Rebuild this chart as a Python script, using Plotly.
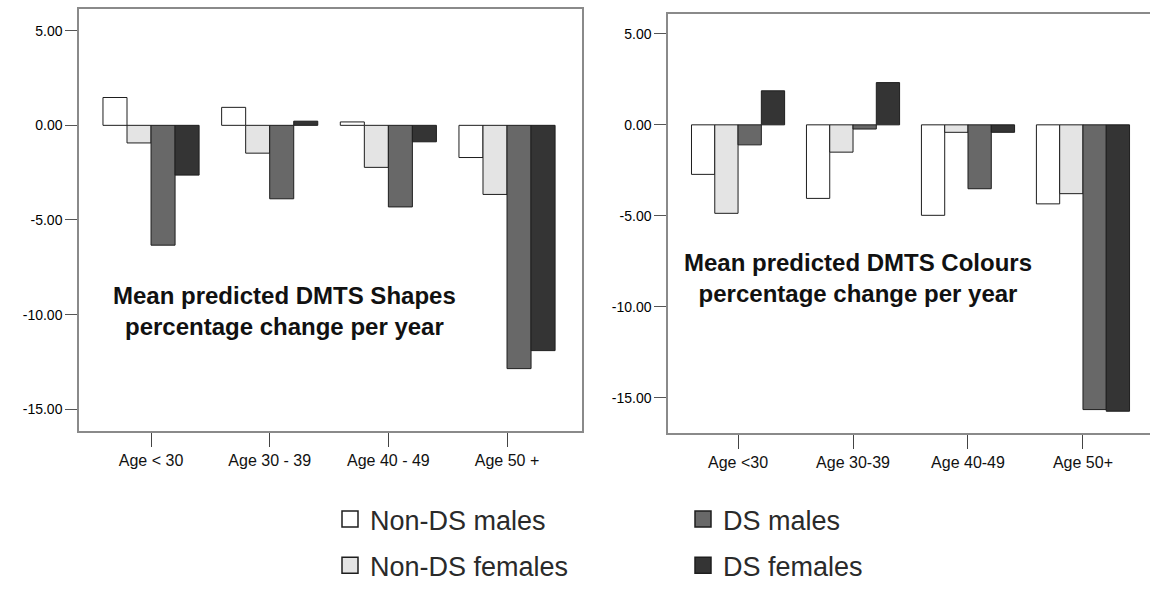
import plotly.graph_objects as go
from plotly.subplots import make_subplots

cats_shapes = ["Age < 30", "Age 30 - 39", "Age 40 - 49", "Age 50 +"]
cats_colours = ["Age <30", "Age 30-39", "Age 40-49", "Age 50+"]
series_names = ["Non-DS males", "Non-DS females", "DS males", "DS females"]

shapes_nonds_males = [1.47, 0.95, 0.18, -1.70]
shapes_nonds_females = [-0.93, -1.47, -2.22, -3.65]
shapes_ds_males = [-6.33, -3.88, -4.31, -12.85]
shapes_ds_females = [-2.63, 0.22, -0.87, -11.90]

colours_nonds_males = [-2.72, -4.04, -4.97, -4.34]
colours_nonds_females = [-4.86, -1.50, -0.41, -3.78]
colours_ds_males = [-1.10, -0.23, -3.51, -15.64]
colours_ds_females = [1.87, 2.32, -0.41, -15.73]

y_ticks = [5, 0, -5, -10, -15]
y_ticktext = ["5.00", "0.00", "-5.00", "-10.00", "-15.00"]

fills = ["#ffffff", "#e4e4e4", "#686868", "#343434"]
outline = "#1e1e1e"

shapes_data = [shapes_nonds_males, shapes_nonds_females, shapes_ds_males, shapes_ds_females]
colours_data = [colours_nonds_males, colours_nonds_females, colours_ds_males, colours_ds_females]

fig = make_subplots(rows=1, cols=2)

for i, name in enumerate(series_names):
    fig.add_trace(go.Bar(x=cats_shapes, y=shapes_data[i], name=name,
                         marker=dict(color=fills[i], line=dict(color=outline, width=1)),
                         showlegend=False), row=1, col=1)
for i, name in enumerate(series_names):
    fig.add_trace(go.Bar(x=cats_colours, y=colours_data[i], name=name,
                         marker=dict(color=fills[i], line=dict(color=outline, width=1)),
                         showlegend=False), row=1, col=2)

# legend entries
legend_ids = ["legend", "legend", "legend2", "legend2"]
for i, name in enumerate(series_names):
    fig.add_trace(go.Scatter(x=[None], y=[None], mode="markers", name=name,
                             marker=dict(symbol="square", size=20, color=fills[i],
                                         line=dict(color=outline, width=1.5)),
                             legend=legend_ids[i], legendgroup=name, showlegend=True,
                             hoverinfo="skip"), row=1, col=1)

frame = "#8a8a8a"
FONT = "Liberation Sans, Arial, sans-serif"
ytickfont = dict(family=FONT, size=14, color="#000000")
xtickfont = dict(family=FONT, size=16, color="#111111")

common_x = dict(showline=True, mirror=True, linecolor=frame, linewidth=1.5, ticks="outside",
                ticklen=14, tickcolor="#444444", tickwidth=1.2, tickfont=xtickfont,
                showgrid=False, zeroline=False, fixedrange=True, automargin=False)
common_y = dict(showline=True, linecolor=frame, linewidth=1.5, ticks="outside",
                ticklen=12, tickcolor="#555555", tickwidth=1.2, tickvals=y_ticks,
                ticktext=y_ticktext, tickfont=ytickfont, showgrid=False, zeroline=False,
                fixedrange=True, automargin=False)

fig.update_layout(
    width=1150, height=590,
    margin=dict(l=0, r=0, t=0, b=0),
    paper_bgcolor="white", plot_bgcolor="white",
    barmode="group", bargap=0.19, bargroupgap=0.0,
    font=dict(family=FONT, color="#222222"),
    xaxis=dict(domain=[0.0687, 0.506], range=[-0.607, 3.631], **common_x),
    yaxis=dict(domain=[0.2593, 0.9847], range=[-16.15, 6.15], mirror=True, **common_y),
    xaxis2=dict(domain=[0.5809, 1.0], range=[-0.609, 3.583], **common_x),
    yaxis2=dict(domain=[0.2559, 0.9763], range=[-16.93, 6.10], mirror=False, **common_y),
    legend=dict(x=330/1150, y=1-502/590, xanchor="left", yanchor="top", orientation="v",
                bgcolor="rgba(0,0,0,0)", font=dict(size=27, color="#2a2a2a"),
                tracegroupgap=8, traceorder="grouped"),
    legend2=dict(x=683/1150, y=1-502/590, xanchor="left", yanchor="top", orientation="v",
                 bgcolor="rgba(0,0,0,0)", font=dict(size=27, color="#2a2a2a"),
                 tracegroupgap=8, traceorder="grouped"),
    annotations=[
        dict(text="<b>Mean predicted DMTS Shapes<br>percentage change per year</b>",
             xref="paper", yref="paper", x=284/1150, y=1-315/590, showarrow=False,
             xanchor="center", yanchor="middle",
             font=dict(size=24, color="#111111"), align="center"),
        dict(text="<b>Mean predicted DMTS Colours<br>percentage change per year</b>",
             xref="paper", yref="paper", x=858/1150, y=1-282/590, showarrow=False,
             xanchor="center", yanchor="middle",
             font=dict(size=24, color="#111111"), align="center"),
    ],
)

fig.write_html("out.html")
